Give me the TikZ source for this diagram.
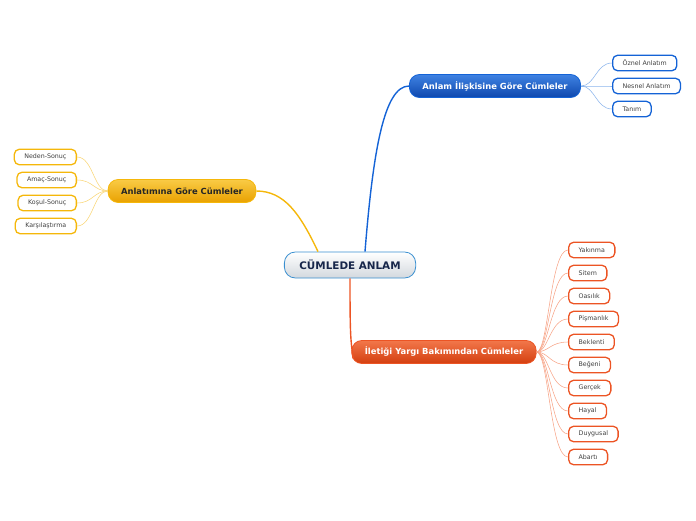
\documentclass[tikz,border=0pt]{standalone}
\usepackage{fontspec}
\setmainfont{DejaVu Sans}
\usepackage{tikz}
\usetikzlibrary{positioning,calc,shadows}
\definecolor{centerline}{HTML}{3A8FD0}
\definecolor{centertext}{HTML}{17264A}
\definecolor{centerbot}{HTML}{D3D8DE}
\definecolor{bluetop}{HTML}{3F82E2}
\definecolor{bluebot}{HTML}{0E48AE}
\definecolor{blueline}{HTML}{1463D6}
\definecolor{bluethin}{HTML}{8CB5EC}
\definecolor{yellowtop}{HTML}{F9CB45}
\definecolor{yellowbot}{HTML}{E9A100}
\definecolor{yellowline}{HTML}{F5B70A}
\definecolor{yellowthin}{HTML}{F9D677}
\definecolor{redtop}{HTML}{F2774A}
\definecolor{redbot}{HTML}{D43F10}
\definecolor{redline}{HTML}{EC5424}
\definecolor{redthin}{HTML}{F7A487}
\tikzset{
  mainnode/.style={rounded corners=10pt,minimum height=23pt,inner xsep=13pt,
    text=white,font=\fontsize{8.4}{9}\selectfont\bfseries,draw=#1line,line width=0.8pt,
    top color=#1top,bottom color=#1bot},
  leaf/.style={rounded corners=5pt,minimum height=15.5pt,inner xsep=10pt,inner ysep=0pt,
    fill=white,draw=#1line,line width=1.3pt,text=black!75,font=\fontsize{6.3}{7}\selectfont},
  trunk/.style={line width=1.4pt,draw=#1line},
  twig/.style={line width=0.55pt,draw=#1thin}
}
\begin{document}
\begin{tikzpicture}[x=1pt,y=-1pt]
\useasboundingbox (0,0) rectangle (696,520);
\node[rounded corners=11pt,minimum height=26pt,inner xsep=15pt,draw=centerline,line width=0.8pt,
  top color=white,bottom color=centerbot,text=centertext,font=\fontsize{10.4}{12}\selectfont\bfseries]
  (cumle) at (350,265) {CÜMLEDE ANLAM};
\node[mainnode=blue] (iliski) at (495,86) {Anlam İlişkisine Göre Cümleler};
\node[mainnode=yellow,text=black!85] (anlatim) at (182,191) {Anlatımına Göre Cümleler};
\node[mainnode=red] (yargi) at (444,352) {İletiği Yargı Bakımından Cümleler};
\draw[trunk=blue] ([xshift=15pt]cumle.north) .. controls +(8,-100) and +(-25,0) .. (iliski.west);
\draw[trunk=yellow] ([xshift=-32pt]cumle.north) .. controls +(-18,-38) and +(28,0) .. (anlatim.east);
\draw[trunk=red] (cumle.south) .. controls +(0,55) and +(-3,-18) .. ([xshift=2pt,yshift=-7pt]yargi.west);
\node[leaf=blue,anchor=west] (oznel) at (612,63) {Öznel Anlatım};
\node[leaf=blue,anchor=west] (nesnel) at (612,86) {Nesnel Anlatım};
\node[leaf=blue,anchor=west] (tanim) at (612,109) {Tanım};
\foreach \n in {oznel,nesnel,tanim}
  \draw[twig=blue] (iliski.east) .. controls +(14,0) and +(-16,0) .. (\n.west);
\node[leaf=yellow,anchor=east] (neden) at (77,157) {Neden-Sonuç};
\node[leaf=yellow,anchor=east] (amac) at (77,180) {Amaç-Sonuç};
\node[leaf=yellow,anchor=east] (kosul) at (77,203) {Koşul-Sonuç};
\node[leaf=yellow,anchor=east] (karsi) at (77,226) {Karşılaştırma};
\foreach \n in {neden,amac,kosul,karsi}
  \draw[twig=yellow] (anlatim.west) .. controls +(-14,0) and +(16,0) .. (\n.east);
\foreach \n/\t [count=\i from 0] in {yakinma/Yakınma,sitem/Sitem,olasilik/Oasılık,pismanlik/Pişmanlık,
    beklenti/Beklenti,begeni/Beğeni,gercek/Gerçek,hayal/Hayal,duygusal/Duygusal,abarti/Abartı}{
  \node[leaf=red,anchor=west] (\n) at (568,250+23*\i) {\t};
  \draw[twig=red] (yargi.east) .. controls +(12,0) and +(-18,0) .. (\n.west);
}
\end{tikzpicture}
\end{document}
